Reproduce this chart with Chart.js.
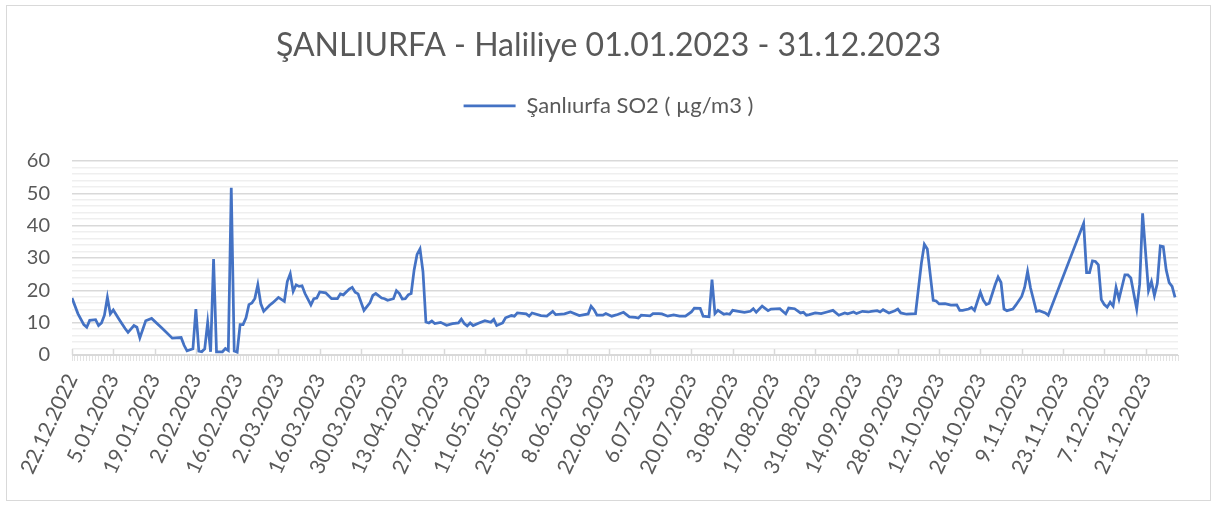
<!DOCTYPE html>
<html lang="tr">
<head>
<meta charset="utf-8">
<title>ŞANLIURFA - Haliliye SO2</title>
<script src="https://cdn.jsdelivr.net/npm/chart.js@4.4.1/dist/chart.umd.min.js"></script>
<style>
  html, body { margin: 0; padding: 0; background: #fff; }
  #kutu { position: relative; width: 1217px; height: 505px; }
  #cerceve { position: absolute; left: 6px; top: 5px; width: 1205px; height: 496px;
             border: 1px solid #d9d9d9; box-sizing: border-box; pointer-events: none; }
</style>
</head>
<body>
<div id="kutu">
  <canvas id="grafik" width="1217" height="505"></canvas>
  <div id="cerceve"></div>
</div>
<script>
// gün numarası: 22.12.2022'den itibaren geçen gün
const gunler = [0, 2, 4, 5, 6, 8, 9, 10, 11, 12, 13, 14, 16, 18, 19, 21, 22, 23, 25, 27, 31, 34, 37, 38, 39, 41, 42, 43, 44, 45, 46, 47, 48, 49, 51, 52, 53, 54, 55, 56, 57, 58, 59,
  60, 61, 62, 63, 64, 65, 67, 68, 70, 72, 73, 74, 75, 76, 77, 78, 79, 81, 82, 83, 84, 86, 88, 90, 91, 92, 94, 95, 96, 97, 99, 101, 102, 103, 105, 106, 107, 109, 110, 111, 112, 113, 114, 115, 116, 117, 118, 119,
  120, 121, 122, 123, 125, 127, 129, 131, 132, 133, 134, 135, 136, 138, 140, 142, 143, 144, 146, 147, 149, 150, 151, 154, 155, 156, 159, 161, 163, 164, 167, 169, 172, 175, 176, 177, 178, 180,
  181, 183, 185, 187, 189, 191, 192, 193, 196, 197, 199, 200, 202, 204, 206, 208, 210, 211, 213, 214, 216, 217, 218, 219, 221, 222, 223, 224, 226, 228, 230, 231, 232, 234, 236, 237, 240,
  242, 243, 245, 247, 248, 249, 250, 252, 254, 256, 258, 260, 262, 263, 265, 266, 268, 270, 271, 273, 274, 275, 277, 279, 280, 281, 283, 286, 288, 289, 290, 292, 293, 294, 296, 298, 300,
  301, 302, 304, 305, 306, 307, 308, 309, 310, 311, 313, 314, 315, 316, 317, 319, 320, 322, 323, 324, 325, 327, 328, 330, 331, 343, 344, 345, 346, 347, 348, 349, 350, 351, 352, 353, 354, 355,
  357, 358, 359, 361, 362, 363, 365, 366, 367, 368, 369, 370, 371, 372, 373, 374];

const so2 = [17.6, 12.8, 9.4, 8.6, 10.7, 10.9, 9.1, 9.9, 12.3, 17.8, 12.7, 13.9, 11.0, 8.2, 7.0, 9.1, 8.6, 5.3, 10.6, 11.3, 7.9, 5.2, 5.4, 3.0, 1.3, 1.9, 14.2, 1.2, 1.0, 1.9, 10.1, 1.0, 29.7, 1.0, 1.0, 2.0, 1.4, 51.7, 1.2, 0.9, 9.4, 9.4, 11.5,
  15.6, 16.1, 17.5, 21.7, 15.9, 13.5, 15.4, 16.1, 17.8, 16.6, 22.7, 25.1, 19.7, 21.7, 21.2, 21.4, 19.0, 15.5, 17.4, 17.6, 19.5, 19.2, 17.4, 17.4, 18.9, 18.6, 20.4, 20.9, 19.4, 18.9, 13.8, 16.1, 18.4, 19.0, 17.6, 17.4, 16.9, 17.4, 19.9, 19.0, 17.3, 17.4, 18.6, 19.0, 26.3, 31.1, 32.8, 25.8,
  10.2, 9.9, 10.5, 9.7, 10.1, 9.2, 9.7, 9.9, 11.1, 9.7, 9.0, 9.9, 9.1, 9.9, 10.6, 10.1, 11.0, 9.1, 9.9, 11.5, 12.2, 12.0, 13.0, 12.7, 12.0, 13.0, 12.2, 12.0, 13.5, 12.5, 12.7, 13.3, 12.2, 12.7, 15.1, 14.0, 12.3, 12.3,
  12.8, 12.0, 12.5, 13.2, 11.8, 11.6, 11.4, 12.3, 12.1, 12.8, 12.8, 12.7, 12.0, 12.4, 12.0, 12.0, 13.3, 14.5, 14.4, 12.0, 11.8, 23.3, 12.8, 13.8, 12.6, 12.8, 12.6, 13.8, 13.5, 13.2, 13.5, 14.3, 13.2, 15.1, 13.7, 14.2, 14.3,
  12.7, 14.5, 14.3, 13.0, 13.2, 12.3, 12.5, 13.0, 12.8, 13.3, 13.8, 12.3, 13.0, 12.7, 13.3, 12.8, 13.5, 13.3, 13.5, 13.7, 13.3, 14.0, 13.0, 13.7, 14.2, 13.0, 12.6, 12.8, 28.4, 34.2, 32.8, 16.9, 16.7, 15.8, 15.9, 15.4, 15.5,
  13.8, 13.8, 14.2, 14.7, 13.8, 16.6, 19.4, 16.9, 15.6, 16.0, 21.7, 24.1, 22.4, 14.2, 13.7, 14.2, 15.4, 18.1, 20.9, 25.8, 20.7, 13.5, 13.7, 13.0, 12.3, 40.7, 25.5, 25.5, 29.1, 28.9, 27.9, 17.1, 15.6, 14.8, 16.3, 15.1, 20.9, 17.3,
  24.8, 24.8, 23.8, 14.2, 21.9, 43.8, 19.9, 22.7, 18.4, 22.2, 33.7, 33.5, 26.3, 22.4, 21.2, 17.8];

const baslik = "ŞANLIURFA - Haliliye 01.01.2023 - 31.12.2023";
const seriAdi = "Şanlıurfa SO2 ( µg/m3 )";
const etiketAraligi = 14; // tarih etiketleri 14 günde bir
const baslangic = Date.UTC(2022, 11, 22);

function tarihYaz(gunNo) {
  const d = new Date(baslangic + gunNo * 86400000);
  const ay = String(d.getUTCMonth() + 1).padStart(2, "0");
  return d.getUTCDate() + "." + ay + "." + d.getUTCFullYear();
}

const noktalar = gunler.map((g, i) => ({ x: g, y: so2[i] }));
const yaziRengi = "#595959";

// ana çentikler eksenin üstüne doğru çizilir
const anaCentikler = {
  id: "anaCentikler",
  beforeDatasetsDraw(chart) {
    const x = chart.scales.x;
    const ctx = chart.ctx;
    ctx.save();
    ctx.strokeStyle = "#d9d9d9";
    ctx.lineWidth = 1.5;
    for (let g = 0; g <= x.max; g += etiketAraligi) {
      const px = Math.round(x.getPixelForValue(g)) + 0.5;
      ctx.beginPath();
      ctx.moveTo(px, x.top);
      ctx.lineTo(px, x.top - 6);
      ctx.stroke();
    }
    ctx.restore();
  }
};

Chart.defaults.font.family = "Lato";
Chart.defaults.color = yaziRengi;

new Chart(document.getElementById("grafik"), {
  type: "line",
  data: {
    datasets: [{
      label: seriAdi,
      data: noktalar,
      borderColor: "#4472c4",
      backgroundColor: "#4472c4",
      borderWidth: 2.75,
      pointRadius: 0,
      tension: 0,
      fill: false
    }]
  },
  options: {
    responsive: false,
    animation: false,
    layout: { padding: 0 },
    plugins: {
      title: {
        display: true,
        text: baslik,
        color: yaziRengi,
        font: { size: 32, weight: "normal" },
        padding: { top: 26, bottom: 20.5 }
      },
      subtitle: {
        display: true,
        text: "",
        weight: 900,
        font: { size: 1 },
        padding: { top: 32.8, bottom: 0 }
      },
      legend: {
        display: true,
        position: "top",
        labels: {
          usePointStyle: true,
          pointStyle: "line",
          pointStyleWidth: 52,
          boxHeight: 22,
          color: yaziRengi,
          font: { size: 22 }
        }
      },
      tooltip: { enabled: false }
    },
    scales: {
      x: {
        type: "linear",
        min: 0,
        max: 375,
        afterFit(scale) { scale.height = 150; },
        border: { display: true, color: "#d9d9d9", width: 1 },
        grid: {
          display: true,
          drawOnChartArea: false,
          drawTicks: true,
          tickLength: 6,
          tickColor: "#e3e3e3",
          tickWidth: 1
        },
        ticks: {
          stepSize: 1,
          autoSkip: false,
          minRotation: 65,
          maxRotation: 65,
          padding: 9,
          color: yaziRengi,
          font: { size: 21 },
          callback: (v) => (v % etiketAraligi === 0 ? tarihYaz(v) : "")
        }
      },
      y: {
        min: 0,
        max: 60,
        afterFit(scale) { scale.width = 72; },
        border: { display: false },
        grid: {
          drawTicks: false,
          color: (c) => (c.tick.value % 10 === 0 ? "#d9d9d9" : "#efefef"),
          lineWidth: 1.5
        },
        ticks: {
          stepSize: 2,
          autoSkip: false,
          padding: 22,
          color: yaziRengi,
          font: { size: 20 },
          callback: (v) => (v % 10 === 0 ? v : "")
        }
      },
      // sağ taraftaki boşluk için görünmez eksen
      bosluk: {
        type: "linear",
        position: "right",
        display: true,
        afterFit(scale) { scale.width = 39; },
        border: { display: false },
        grid: { display: false },
        ticks: { display: false }
      }
    }
  },
  plugins: [anaCentikler]
});
</script>
</body>
</html>
